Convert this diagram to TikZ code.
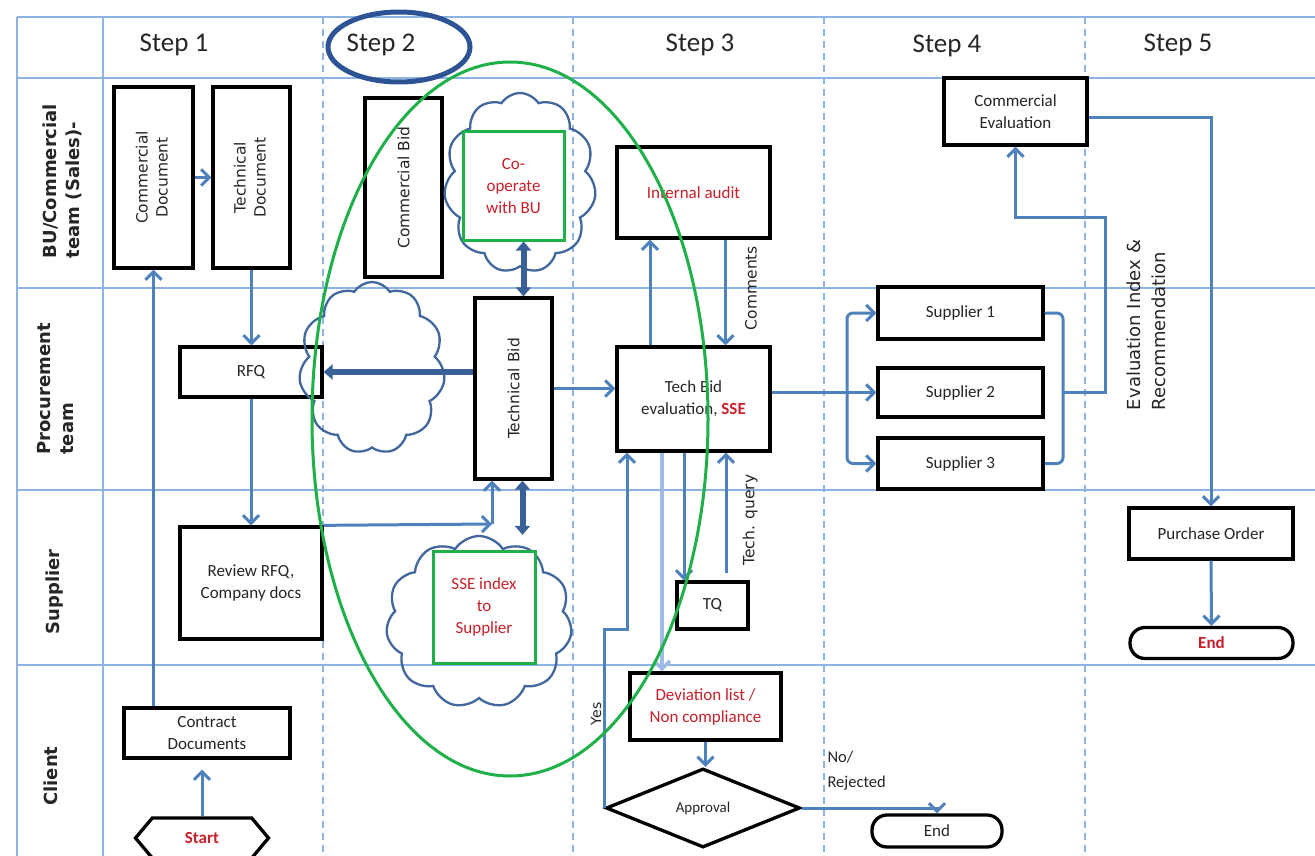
\documentclass[tikz,border=0pt]{standalone}
\usepackage{fontspec}
\setmainfont{Carlito}
\newfontfamily\dv{DejaVu Sans}
\newcommand\rtxt{\dv\fontsize{15.5}{20}\selectfont}
\usetikzlibrary{arrows.meta,shapes.geometric,shapes.symbols,calc}
\definecolor{gridc}{HTML}{8DB3E2}
\definecolor{conn}{HTML}{4F81BD}
\definecolor{thick}{HTML}{3A6098}
\definecolor{cloudc}{HTML}{41679C}
\definecolor{grn}{HTML}{1FB04A}
\definecolor{stepc}{HTML}{2E5395}
\definecolor{redt}{HTML}{C8202A}
\definecolor{txt}{HTML}{262626}
\definecolor{pale}{HTML}{9DBBE3}
\begin{document}
\begin{tikzpicture}[x=1pt,y=-1pt,
 gridline/.style={draw=gridc,line width=1.6pt},
 dashline/.style={draw=gridc,line width=1.3pt,dash pattern=on 7pt off 5pt},
 box/.style={draw=black,line width=3.3pt,fill=white,inner sep=2pt,align=center,text=txt,font=\fontsize{17}{22}\selectfont},
 gbox/.style={draw=grn,line width=3pt,fill=white,inner sep=2pt,align=center,text=redt,font=\fontsize{17}{22}\selectfont},
 cloudn/.style={cloud,cloud puffs=11,cloud puff arc=115,draw=cloudc,line width=2.3pt,inner sep=0pt},
 arr/.style={draw=conn,line width=3pt,-{Straight Barb[length=8pt,width=16pt]}},
 ln/.style={draw=conn,line width=3pt},
 thk/.style={draw=thick,line width=6pt,-{Triangle[length=9pt,width=15pt]}},
 dthk/.style={draw=thick,line width=6pt,{Triangle[length=9pt,width=15pt]}-{Triangle[length=9pt,width=15pt]}},
 lane/.style={font=\dv\bfseries\fontsize{18}{23}\selectfont,text=txt,rotate=90,align=left},
 steplab/.style={font=\fontsize{27}{30}\selectfont,text=txt},
 vlab/.style={font=\dv\fontsize{15.5}{24}\selectfont,text=txt,rotate=90,align=left},
 term/.style={box,rounded corners=15pt}
]
\useasboundingbox (0,0) rectangle (1315,856);
\fill[white] (0,0) rectangle (1315,856);
% grid
\draw[gridline] (17,17) -- (1315,17);
\draw[gridline] (17,78) -- (1315,78);
\draw[gridline] (17,288) -- (1315,288);
\draw[gridline] (17,490) -- (1315,490);
\draw[gridline] (17,665) -- (1315,665);
\draw[gridline] (17,17) -- (17,856);
\draw[gridline] (103,17) -- (103,856);
\foreach \xx in {323,573,824,1085} \draw[dashline] (\xx,17) -- (\xx,856);
% headers
\node[steplab] (st1) at (174,45) {Step 1};
\node[steplab] (st2) at (381,45) {Step 2};
\node[steplab] (st3) at (700,45) {Step 3};
\node[steplab] (st4) at (947,46) {Step 4};
\node[steplab] (st5) at (1178,45) {Step 5};
% lane labels
\node[lane] (l1) at (62,181) {BU/Commercial\\team (Sales)-};
\node[lane] (l2) at (56,389) {Procurement\\team};
\node[lane] (l3) at (55,592) {Supplier};
\node[lane] (l4) at (51,776) {Client};
% step 1
\node[box,minimum width=79,minimum height=181] (comd) at (153.5,177.5) {\rotatebox{90}{\rtxt\begin{tabular}{@{}c@{}}Commercial\\Document\end{tabular}}};
\node[box,minimum width=77,minimum height=181] (techd) at (251.5,177.5) {\rotatebox{90}{\rtxt\begin{tabular}{@{}c@{}}Technical\\Document\end{tabular}}};
\node[box,minimum width=142,minimum height=50] (rfq) at (251,372) {RFQ};
\node[box,minimum width=142,minimum height=112] (rr) at (251,583) {Review RFQ,\\Company docs};
\node[box,minimum width=166,minimum height=50] (cd) at (207,733) {Contract\\Documents};
\node[box,signal,signal to=west and east,signal pointer angle=100,minimum width=133,minimum height=40,text=redt,font=\bfseries\fontsize{17}{20}\selectfont] (start) at (202,838) {Start};
% step 2
\node[box,minimum width=77,minimum height=179] (combid) at (403.5,187.5) {\rotatebox{90}{\rtxt Commercial Bid}};
\node[cloudn,minimum width=152,minimum height=180] (coc) at (520,183) {};
\node[gbox,minimum width=101,minimum height=108] (co) at (513.5,186) {Co-\\operate\\with BU};
\node[box,minimum width=77,minimum height=181] (tb) at (513.5,388.5) {\rotatebox{90}{\rtxt Technical Bid}};
\node[cloudn,minimum width=146,minimum height=172] (c2) at (372,368) {};
\node[cloudn,minimum width=186,minimum height=172] (ssec) at (479,622) {};
\node[gbox,minimum width=102,minimum height=112] (sse) at (484,607) {SSE index\\to\\Supplier};
% step 3
\node[box,minimum width=153,minimum height=91,text=redt] (ia) at (693.5,192.5) {Internal audit};
\node[box,minimum width=153,minimum height=104] (te) at (693.5,399) {Tech Bid\\evaluation, {\color{redt}\bfseries SSE}};
\node[box,minimum width=71,minimum height=47] (tq) at (712.5,605.5) {TQ};
\node[box,minimum width=151,minimum height=67,text=redt] (dev) at (705.5,706.5) {Deviation list /\\Non compliance};
\node[box,diamond,minimum width=194,minimum height=79,inner sep=0pt,font=\fontsize{15}{18}\selectfont] (ap) at (703,808) {Approval};
\node[term,minimum width=130,minimum height=32] (end1) at (937,831) {End};
% step 4/5
\node[box,minimum width=143,minimum height=67] (ce) at (1015.5,111.5) {Commercial\\Evaluation};
\node[box,minimum width=165,minimum height=52] (s1) at (960.5,313) {Supplier 1};
\node[box,minimum width=165,minimum height=49] (s2) at (960.5,392.5) {Supplier 2};
\node[box,minimum width=165,minimum height=51] (s3) at (960.5,463.5) {Supplier 3};
\node[box,minimum width=164,minimum height=51] (po) at (1211,533.5) {Purchase Order};
\node[term,minimum width=163,minimum height=31,text=redt,font=\bfseries\fontsize{17}{20}\selectfont] (end2) at (1211.5,643) {End};
% connector labels
\node[vlab] (cmt) at (751,288) {Comments};
\node[vlab] (tql) at (750,520) {Tech. query};
\node[vlab,font=\dv\fontsize{14}{16}\selectfont] (yes) at (596,714) {Yes};
\node[vlab,font=\dv\fontsize{18}{25}\selectfont] (eir) at (1146,325) {Evaluation Index \&\\Recommendation};
\node[font=\fontsize{16.5}{25}\selectfont,align=left,anchor=west,text=txt] (nor) at (824,771) {No/\\Rejected};
% connectors
\draw[arr] (comd.east) -- (techd.west);
\draw[arr] (techd.south) -- (techd.south |- rfq.north);
\draw[arr] (rfq.south) -- (rr.north);
\draw[arr] (cd.north -| comd.south) -- (comd.south);
\coordinate (sk) at ([yshift=-10pt]cd.south);
\draw[arr] (start.north) -- (start.north |- sk);
\coordinate (rk) at (492,524);
\draw[arr] (rr.north east) -- (rk);
\draw[arr] (rk) -- (rk |- tb.south);
\draw[thk] (tb.west |- rfq.east) -- (rfq.east);
\draw[dthk] ([xshift=10pt]co.south) -- ([xshift=10pt]tb.north);
\draw[dthk] ([xshift=9pt]tb.south) -- ([xshift=9pt]tb.south |- ssec.north);
\draw[arr] (tb.east) -- (tb.east -| te.west);
\draw[arr] ([xshift=-43.5pt]te.north) -- ([xshift=-43.5pt]ia.south);
\draw[arr] ([xshift=32pt]ia.south) -- ([xshift=32pt]te.north);
\draw[arr] ([xshift=-9.5pt]te.south) -- ([xshift=-28.5pt]tq.north);
\draw[arr] ([xshift=13.5pt,yshift=7pt]tq.north) -- ([xshift=32.5pt]te.south);
\draw[draw=pale,line width=3.5pt,-{Straight Barb[length=8pt,width=16pt]}] ([xshift=-31.5pt]te.south) -- ([xshift=-43.5pt]dev.north);
\draw[arr] (dev.south) -- (dev.south |- ap.north);
\coordinate (yk) at (627,629);
\draw[arr] (ap.west) -- (ap.west |- yk) -- (yk) -- (yk |- te.south);
\draw[arr] (ap.east) -- (ap.east -| end1.north) -- (end1.north);
\draw[arr] (te.east |- s2.west) -- (s2.west);
\coordinate (br) at (847,392.5);
\draw[arr,rounded corners=6pt] (br) |- (s1.west);
\draw[arr,rounded corners=6pt] (br) |- (s3.west);
\coordinate (cj) at (1063,392.5);
\coordinate (ek) at (1105,217);
\draw[ln,rounded corners=6pt] (s1.east) -| (cj) |- (s3.east);
\draw[arr] (cj) -| (ek) -| (ce.south);
\draw[arr] ([yshift=-6pt]ce.east) -| (po.north);
\draw[arr] (po.south) -- (end2.north);
% ellipses
\draw[draw=stepc,line width=5pt] (399,47) ellipse [x radius=71pt,y radius=35pt];
\draw[draw=grn,line width=3pt] (510,419) ellipse [x radius=198pt,y radius=357pt];
\end{tikzpicture}
\end{document}
